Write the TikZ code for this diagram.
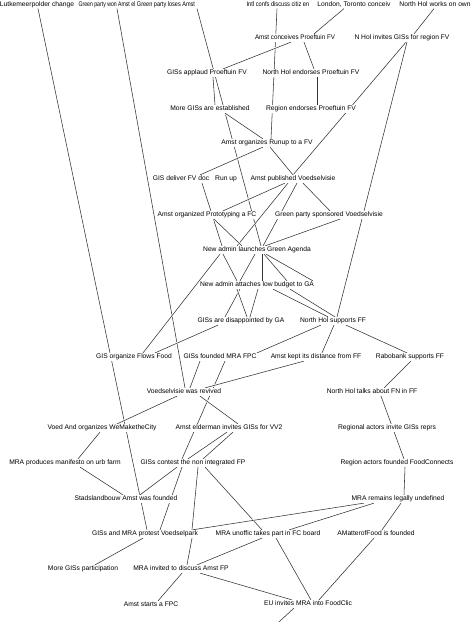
\documentclass[tikz,border=0pt]{standalone}
\usepackage{fontspec}
\setmainfont{Liberation Sans}
\usetikzlibrary{backgrounds}
\begin{document}
\begin{tikzpicture}[x=1pt,y=-1pt,
  ev/.style={fill=white,inner sep=0.7pt,text height=5pt,text depth=1.4pt,font=\fontsize{6.7}{7}\selectfont},
  link/.style={draw=black!80,line width=0.55pt,preaction={draw=white,line width=2pt}}]
\useasboundingbox (0,0) rectangle (474,622);
% row 1
\node[ev] (n01) at (37,4.5) {Lutkemeerpolder change};
\node[ev] (n02) at (107,4.5) {\scalebox{0.77}[1]{Green party won Amst el}};
\node[ev] (n03) at (166,4.5) {\scalebox{0.83}[1]{Green party loses Amst}};
\node[ev] (n04) at (278,4.5) {\scalebox{0.85}[1]{Intl confs discuss citiz en}};
\node[ev] (n05) at (354,4.5) {London, Toronto conceiv};
\node[ev] (n06) at (435,4.5) {North Hol works on own};
% rows
\node[ev] (n07) at (295,38) {\scalebox{0.93}[1]{Amst conceives Proeftuin FV}};
\node[ev] (n08) at (402,38) {N Hol invites GISs for region FV};
\node[ev] (n09) at (207,73) {GISs applaud Proeftuin FV};
\node[ev] (n10) at (311,73) {North Hol endorses Proeftuin FV};
\node[ev] (n11) at (210,109) {More GISs are established};
\node[ev] (n12) at (311,109) {Region endorses Proeftuin FV};
\node[ev] (n13) at (267,143) {Amst organizes Runup to a FV};
\node[ev] (n14) at (181,179) {GIS deliver FV doc};
\node[ev] (n15) at (226,179) {Run up};
\node[ev] (n16) at (293,179) {Amst published Voedselvisie};
\node[ev] (n17) at (207,215) {Amst organized Prototyping a FC};
\node[ev] (n18) at (329,215) {Green party sponsored Voedselvisie};
\node[ev] (n19) at (257,250) {New admin launches Green Agenda};
\node[ev] (n20) at (257,285) {New admin attaches low budget to GA};
\node[ev] (n21) at (241,321) {GISs are disappointed by GA};
\node[ev] (n22) at (333,321) {North Hol supports FF};
\node[ev] (n23) at (134,357) {GIS organize Flows Food};
\node[ev] (n24) at (220,357) {GISs founded MRA FPC};
\node[ev] (n25) at (316,357) {Amst kept its distance from FF};
\node[ev] (n26) at (410,357) {Rabobank supports FF};
\node[ev] (n27) at (184,392) {Voedselvisie was revived};
\node[ev] (n28) at (372,392) {North Hol talks about FN in FF};
\node[ev] (n29) at (102,428) {Voed And organizes WeMaketheCity};
\node[ev] (n30) at (229,428) {Amst elderman invites GISs for VV2};
\node[ev] (n31) at (387,428) {Regional actors invite GISs reprs};
\node[ev] (n32) at (65,463) {MRA produces manifesto on urb farm};
\node[ev] (n33) at (193,463) {GISs contest the non integrated FP};
\node[ev] (n34) at (397,463) {Region actors founded FoodConnects};
\node[ev] (n35) at (126,499) {Stadslandbouw Amst was founded};
\node[ev] (n36) at (398,499) {MRA remains legally undefined};
\node[ev] (n37) at (145,534) {GISs and MRA protest Voedselpark};
\node[ev] (n38) at (268,534) {MRA unoffic takes part in FC board};
\node[ev] (n39) at (376,534) {AMatterofFood is founded};
\node[ev] (n40) at (83,569) {More GISs participation};
\node[ev] (n41) at (181,569) {MRA invited to discuss Amst FP};
\node[ev] (n42) at (151,605) {Amst starts a FPC};
\node[ev] (n43) at (308,604) {EU invites MRA into FoodClic};
\coordinate (below) at (268,632);
\begin{scope}[on background layer]
\fill[white] (0,0) rectangle (474,622);
\path[link] ([xshift=1pt]n01.south) -- ([xshift=2pt]n37.north);
\path[link] ([xshift=10pt]n02.south) -- ([xshift=1pt]n27.north);
\path[link] ([xshift=31pt]n03.south) -- ([xshift=4pt]n19.north);
\path[link] ([xshift=-1pt]n04.south) -- ([xshift=4pt]n13.north);
\path[link] ([xshift=-10pt]n05.south) -- ([xshift=19pt]n07.north);
\path[link] ([xshift=-1pt]n06.south) -- ([xshift=12pt]n08.north);
\path[link] ([xshift=-4pt]n07.south) -- ([xshift=16pt]n09.north);
\path[link] ([xshift=9pt]n07.south) -- ([xshift=3pt]n10.north);
\path[link] ([xshift=4pt]n08.south) -- ([xshift=0pt]n16.north);
\path[link] ([xshift=5pt]n08.south) -- ([xshift=4pt]n22.north);
\path[link] ([xshift=6pt]n09.south) -- ([xshift=5pt]n11.north);
\path[link] ([xshift=6pt]n10.south) -- ([xshift=6pt]n12.north);
\path[link] ([xshift=15pt]n11.south) -- ([xshift=-4pt]n13.north);
\path[link] ([xshift=-4pt]n13.south) -- ([xshift=19pt]n14.north);
\path[link] ([xshift=3pt]n13.south) -- ([xshift=0pt]n16.north);
\path[link] ([xshift=21pt]n14.south) -- ([xshift=-35pt]n19.north);
\path[link] ([xshift=-8pt]n16.south) -- ([xshift=16pt]n17.north);
\path[link] ([xshift=-5pt]n16.south) -- ([xshift=-20pt]n19.north);
\path[link] ([xshift=4pt]n16.south) -- ([xshift=6pt]n19.north);
\path[link] ([xshift=10pt]n16.south) -- ([xshift=1pt]n18.north);
\path[link] ([xshift=11pt]n18.south) -- ([xshift=8pt]n19.north);
\path[link] ([xshift=7pt]n17.south) -- ([xshift=-15pt]n19.north);
\path[link] ([xshift=-37pt]n19.south) -- ([xshift=9pt]n23.north);
\path[link] ([xshift=-34pt]n19.south) -- ([xshift=-20pt]n20.north);
\path[link] ([xshift=-2pt]n19.south) -- ([xshift=-17pt]n20.north);
\path[link] ([xshift=5pt]n19.south) -- ([xshift=5pt]n20.north);
\path[link] ([xshift=7pt]n19.south) -- ([xshift=30pt]n20.north);
\path[link] ([xshift=9pt]n19.south) -- ([xshift=56pt]n20.north);
\path[link] ([xshift=-17pt]n20.south) -- ([xshift=-16pt]n21.north);
\path[link] ([xshift=-20pt]n20.south) -- ([xshift=6pt]n21.north);
\path[link] ([xshift=1pt]n20.south) -- ([xshift=9pt]n21.north);
\path[link] ([xshift=16pt]n20.south) -- ([xshift=-5pt]n22.north);
\path[link] ([xshift=33pt]n20.south) -- ([xshift=2pt]n22.north);
\path[link] ([xshift=-23pt]n21.south) -- ([xshift=21pt]n23.north);
\path[link] ([xshift=-12pt]n22.south) -- ([xshift=37pt]n24.north);
\path[link] ([xshift=1pt]n22.south) -- ([xshift=6pt]n25.north);
\path[link] ([xshift=13pt]n22.south) -- ([xshift=-3pt]n26.north);
\path[link] ([xshift=-20pt]n24.south) -- ([xshift=6pt]n27.north);
\path[link] ([xshift=5pt]n24.south) -- ([xshift=-11pt]n33.north);
\path[link] ([xshift=-12pt]n25.south) -- ([xshift=21pt]n27.north);
\path[link] ([xshift=1pt]n26.south) -- ([xshift=12pt]n28.north);
\path[link] ([xshift=-7pt]n27.south) -- ([xshift=15pt]n29.north);
\path[link] ([xshift=16pt]n27.south) -- ([xshift=9pt]n30.north);
\path[link] ([xshift=9pt]n28.south) -- ([xshift=7pt]n34.north);
\path[link] ([xshift=-2pt]n29.south) -- ([xshift=13pt]n32.north);
\path[link] ([xshift=-2pt]n30.south) -- ([xshift=-5pt]n33.north);
\path[link] ([xshift=4pt]n30.south) -- ([xshift=10pt]n33.north);
\path[link] ([xshift=15pt]n32.south) -- ([xshift=-3pt]n35.north);
\path[link] ([xshift=-16pt]n33.south) -- ([xshift=14pt]n35.north);
\path[link] ([xshift=-11pt]n33.south) -- ([xshift=15pt]n37.north);
\path[link] ([xshift=5pt]n33.south) -- ([xshift=47pt]n37.north);
\path[link] ([xshift=12pt]n33.south) -- ([xshift=-6pt]n38.north);
\path[link] ([xshift=8pt]n34.south) -- ([xshift=6pt]n36.north);
\path[link] ([xshift=-34pt]n36.south) -- ([xshift=47pt]n37.north);
\path[link] ([xshift=-24pt]n36.south) -- ([xshift=21pt]n38.north);
\path[link] ([xshift=3pt]n36.south) -- ([xshift=6pt]n39.north);
\path[link] ([xshift=-2pt]n37.south) -- ([xshift=12pt]n40.north);
\path[link] ([xshift=47pt]n37.south) -- ([xshift=6pt]n41.north);
\path[link] ([xshift=-6pt]n38.south) -- ([xshift=16pt]n41.north);
\path[link] ([xshift=8pt]n38.south) -- ([xshift=3pt]n43.north);
\path[link] ([xshift=-2pt]n39.south) -- ([xshift=11pt]n43.north);
\path[link] ([xshift=1pt]n41.south) -- ([xshift=7pt]n42.north);
\path[link] ([xshift=19pt]n41.south) -- ([xshift=-16pt]n43.north);
\path[link] ([xshift=-14pt]n43.south) -- (below);
\end{scope}
\end{tikzpicture}
\end{document}
